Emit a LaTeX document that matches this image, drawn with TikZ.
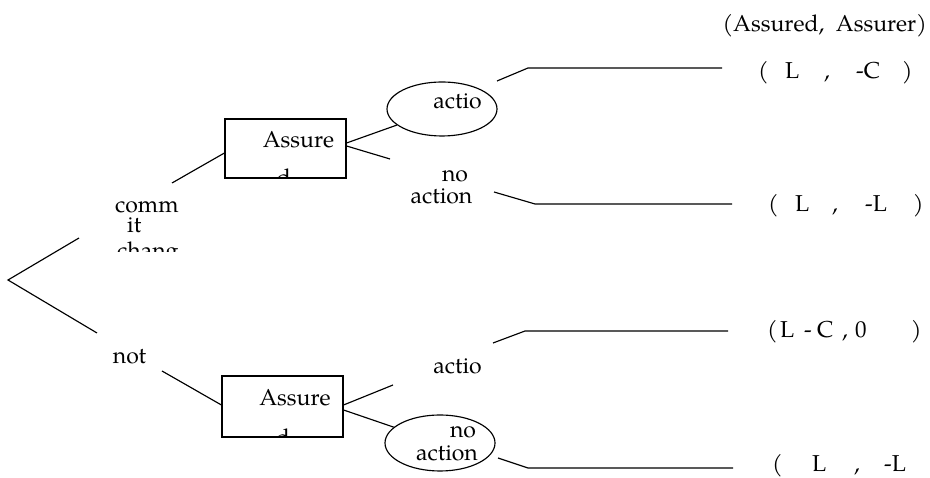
\documentclass[tikz,border=0pt]{standalone}
\usepackage{fontspec}
\setmainfont{TeX Gyre Pagella}
\usetikzlibrary{shapes.geometric,calc}
\newcommand{\txtsize}{\fontsize{23}{23}\selectfont}
\newcommand{\payp}[2]{\makebox[0pt][l]{\hspace*{#1pt}#2}}
\tikzset{
  ln/.style={line width=1.15pt},
  boxn/.style={draw, line width=1.15pt, minimum width=121pt, minimum height=59pt, inner sep=0pt},
  elln/.style={draw, ellipse, line width=1.15pt, minimum width=110pt, minimum height=54pt, inner sep=0pt},
  lbl/.style={inner sep=0pt, font=\txtsize},
}
\begin{document}
\begin{tikzpicture}[x=1pt,y=1pt]
\useasboundingbox (0,0) rectangle (930,478);
% nodes
\node[boxn] (box1) at (285.5,329.5) {};
\node[boxn, minimum height=61pt] (box2) at (282.5,71.5) {};
\node[elln] (ell1) at (442,369) {};
\node[elln, minimum height=56pt] (ell2) at (440,35) {};
% texts in boxes
\node[lbl, anchor=base] (as1) at (298.5,330) {Assure};
\node[lbl, anchor=base] (as2) at (295,72) {Assure};
\begin{scope}
  \clip (box1.south west) rectangle (box1.north east);
  \node[lbl, anchor=base] (d1) at (284,292) {d};
\end{scope}
\begin{scope}
  \clip (box2.south west) rectangle (box2.north east);
  \node[lbl, anchor=base] (d2) at (283,32) {d};
\end{scope}
% branch labels
\node[lbl, anchor=base west] (cm1) at (115,265) {comm};
\node[lbl, anchor=base west] (cm2) at (127,245) {it};
\begin{scope}
  \clip (100,226) rectangle (200,240);
  \node[lbl, anchor=base west] (cm3) at (117,219) {chang};
\end{scope}
\node[lbl, anchor=base] (nt) at (129.5,114) {not};
\node[lbl, anchor=base] (ac1) at (457.5,369) {actio};
\node[lbl, anchor=base] (no1) at (455,296) {no};
\node[lbl, anchor=base] (na1) at (441.5,274) {action};
\node[lbl, anchor=base] (ac2) at (457.5,104) {actio};
\node[lbl, anchor=base] (no2) at (463,40) {no};
\node[lbl, anchor=base] (na2) at (447,17) {action};
% header and payoffs
\node[lbl, anchor=base east] (hd) at (927,446) {(Assured,\ \ Assurer)};
\node[lbl, anchor=base west] (p1) at (758,399) {\payp{0}{(}\payp{27}{L}\payp{66}{,}\payp{98}{-C}\payp{144}{)}\hspace*{152pt}};
\node[lbl, anchor=base west] (p2) at (768,266) {\payp{0}{(}\payp{27}{L}\payp{64}{,}\payp{97}{-L}\payp{145}{)}\hspace*{152pt}};
\node[lbl, anchor=base west] (p3) at (767,140) {\payp{0}{(}\payp{13}{L}\payp{37}{-}\payp{50}{C}\payp{75}{,}\payp{88}{0}\payp{144}{)}\hspace*{152pt}};
\node[lbl, anchor=base west] (p4) at (772,6) {\payp{0}{(}\payp{40}{L}\payp{82}{,}\payp{112}{-L}\hspace*{140pt}};
% coordinates for free ends
\coordinate (r) at (8,198);
\coordinate (c1) at (79,240);
\coordinate (c2) at (97,145);
\coordinate (c3) at (172,295);
\coordinate (c5) at (162,107);
\coordinate (n1) at (390,319);
\coordinate (n2) at (393,93);
\coordinate (e1) at (497,397);
\coordinate (k1) at (528,410);
\coordinate (t1) at (722,410);
\coordinate (e2) at (494,286);
\coordinate (k2) at (535,274);
\coordinate (t2) at (732,274);
\coordinate (e3) at (493,135);
\coordinate (k3) at (525,147);
\coordinate (t3) at (728,147);
\coordinate (e4) at (498,20);
\coordinate (k4) at (528,10);
\coordinate (t4) at (733,10);
% connectors
\draw[ln] (c1) -- (r) -- (c2);
\draw[ln] (c3) -- ($(box1.west)+(0,-4.5)$);
\draw[ln] (c5) -- ($(box2.west)+(0,1.5)$);
\draw[ln] ($(box1.east)+(0,5.5)$) -- (ell1);
\draw[ln] ($(box1.east)+(0,2.5)$) -- (n1);
\draw[ln] ($(box2.east)+(0,1.5)$) -- (n2);
\draw[ln] ($(box2.east)+(0,-3.5)$) -- (ell2);
\draw[ln] (e1) -- (k1) -- (t1);
\draw[ln] (e2) -- (k2) -- (t2);
\draw[ln] (e3) -- (k3) -- (t3);
\draw[ln] (e4) -- (k4) -- (t4);
\end{tikzpicture}
\end{document}
